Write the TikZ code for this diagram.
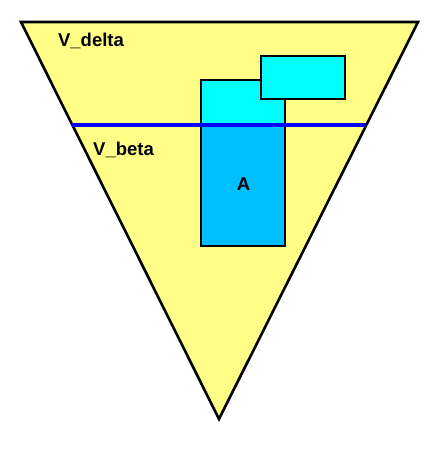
\documentclass[tikz,border=0pt]{standalone}
\usepackage{fontspec}
\setmainfont{Liberation Sans}
\usepackage{tikz}
\usetikzlibrary{calc}
\definecolor{paleyellow}{HTML}{FFFF88}
\definecolor{skycyan}{HTML}{00FFFF}
\definecolor{deepsky}{HTML}{00BFFF}
\tikzset{
  region/.style={draw=black, line width=2.6pt, line join=miter},
  cell/.style={draw=black, line width=2.6pt},
  cut/.style={draw=blue, line width=4pt},
  lbl/.style={font=\fontsize{18.5}{22}\selectfont\bfseries, inner sep=0pt},
}

\begin{document}
\begin{tikzpicture}[x=1pt,y=-1pt]
\useasboundingbox (0,0) rectangle (443,450);
% the outer region
\coordinate (tl) at (21,22);
\coordinate (tr) at (418,22);
\coordinate (bt) at (219,419);
\filldraw[region, fill=paleyellow] (tl) -- (tr) -- (bt) -- cycle;
% set A and its neighbour
\filldraw[cell, fill=skycyan] (201,80) rectangle (285,125);
\filldraw[cell, fill=deepsky] (201,125) rectangle (285,246);
\filldraw[cell, fill=skycyan] (261,56) rectangle (345,99);
% the cut line
\coordinate (cl) at ($(tl)!0.259!(bt)$);
\coordinate (cr) at ($(tr)!0.259!(bt)$);
\draw[cut] (cl) -- (cr);
\node[lbl] (vdelta) at (91,41) {V\_delta};
\node[lbl] (vbeta) at (123.5,150) {V\_beta};
\node[lbl] (seta) at (243.5,184.5) {A};
\end{tikzpicture}
\end{document}
